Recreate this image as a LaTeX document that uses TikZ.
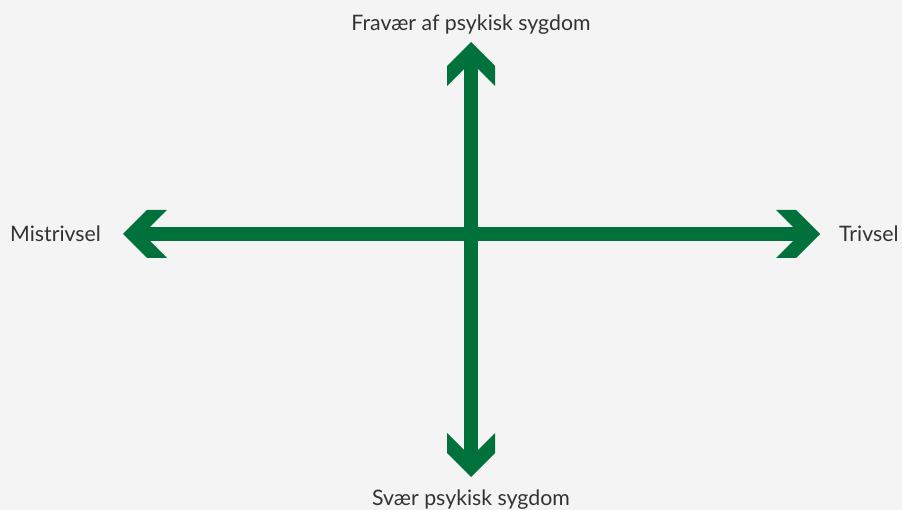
\documentclass[tikz,border=0pt]{standalone}
\usepackage{fontspec}
\setmainfont{Lato}
\definecolor{axisgreen}{HTML}{00713A}
\definecolor{bgpaper}{HTML}{F4F4F4}
\definecolor{labelgray}{HTML}{333333}
\tikzset{
  axisline/.style={draw=axisgreen, line width=14pt, line cap=butt, shorten <=27pt, shorten >=27pt},
  chevron/.pic={\fill[axisgreen] (0,0) -- (-24,24) -- (-44,24) -- (-27,7) -- (-27,-7) -- (-44,-24) -- (-24,-24) -- cycle;},
  axislabel/.style={text=labelgray, font=\fontsize{21.3}{25}\selectfont, inner sep=0pt, anchor=base}
}
\begin{document}
\begin{tikzpicture}[x=1pt, y=-1pt]
  % page and background
  \fill[bgpaper] (0,0) rectangle (902,510);
  \useasboundingbox (0,0) rectangle (902,510);

  % arrow tips of the two axes
  \coordinate (up) at (471,42);
  \coordinate (down) at (471,477);
  \coordinate (left) at (123,234);
  \coordinate (right) at (820,234);

  % shafts
  \draw[axisline] (left) -- (right);
  \draw[axisline] (up) -- (down);

  % chevron heads
  \pic[rotate=0] at (right) {chevron};
  \pic[rotate=180] at (left) {chevron};
  \pic[rotate=90] at (up) {chevron};
  \pic[rotate=-90] at (down) {chevron};

  % labels
  \node[axislabel] (lbltop) at (471,31) {Fravær af psykisk sygdom};
  \node[axislabel] (lblbottom) at (471,505) {Svær psykisk sygdom};
  \node[axislabel, anchor=base west] (lblleft) at (10,242) {Mistrivsel};
  \node[axislabel, anchor=base west] (lblright) at (839,242) {Trivsel};
\end{tikzpicture}
\end{document}
